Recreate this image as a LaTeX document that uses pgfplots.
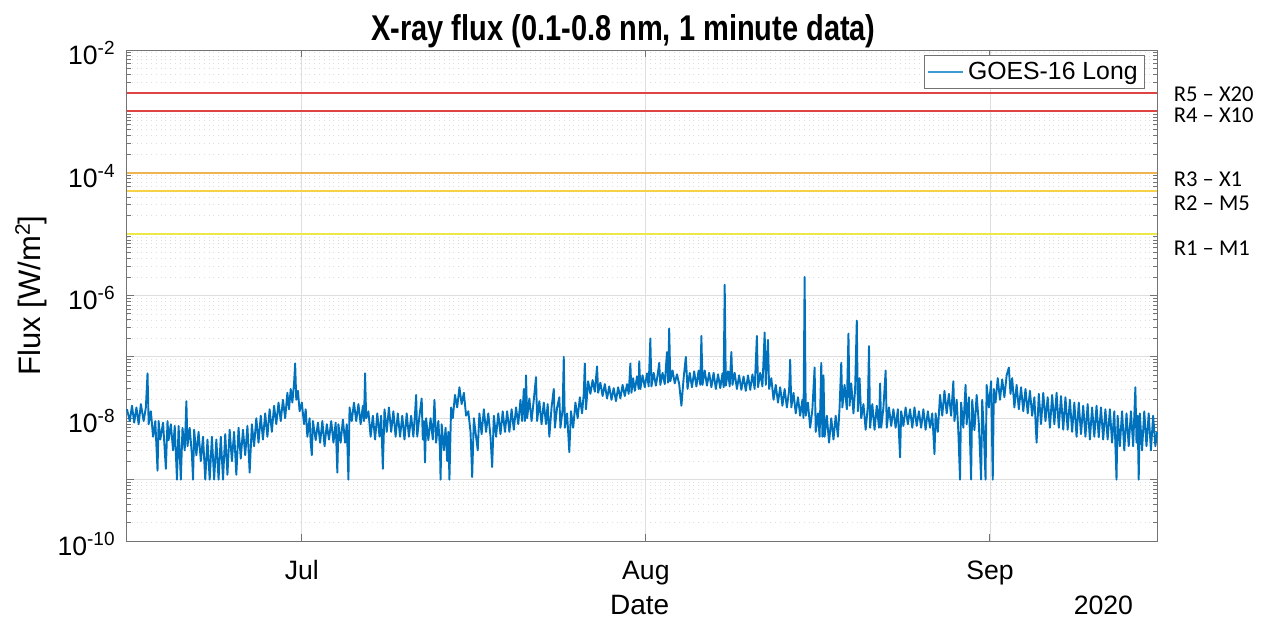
\documentclass[border=0pt]{standalone}
\usepackage{fontspec}
\setmainfont{Liberation Sans}
\newfontfamily\titlefont{Liberation Sans}[FakeStretch=0.81]
\newfontfamily\calfont{Carlito}
\usepackage{pgfplots}
\pgfplotsset{compat=1.18}
\definecolor{mblue}{RGB}{0,114,189}
\definecolor{legblue}{RGB}{60,155,212}
\definecolor{rRed}{RGB}{222,68,68}
\definecolor{rOrange}{RGB}{238,180,80}
\definecolor{rGold}{RGB}{245,210,70}
\definecolor{rYellow}{RGB}{238,232,70}
\newcommand{\sups}[1]{\raisebox{5pt}{\fontsize{9.5}{10}\selectfont #1}}
\begin{document}
\begin{tikzpicture}
\useasboundingbox (-63.5pt,-39pt) rectangle (567pt,270.5pt);
\begin{axis}[
  scale only axis, width=515pt, height=245.5pt,
  at={(0pt,0pt)}, anchor=south west,
  ymode=log, log basis y=10,
  xmin=-15.75, xmax=77.05, ymin=1e-10, ymax=1e-2,
  clip=false,
  xtick={0,31,62}, xticklabels={Jul,Aug,Sep},
  ytick={1e-10,1e-9,1e-8,1e-7,1e-6,1e-5,1e-4,1e-3,1e-2},
  yticklabels={{10\sups{-10}},{},{10\sups{-8}},{},{10\sups{-6}},{},{10\sups{-4}},{},{10\sups{-2}}},
  minor ytick={2e-10,3e-10,4e-10,5e-10,6e-10,7e-10,8e-10,9e-10,
    2e-9,3e-9,4e-9,5e-9,6e-9,7e-9,8e-9,9e-9,
    2e-8,3e-8,4e-8,5e-8,6e-8,7e-8,8e-8,9e-8,
    2e-7,3e-7,4e-7,5e-7,6e-7,7e-7,8e-7,9e-7,
    2e-6,3e-6,4e-6,5e-6,6e-6,7e-6,8e-6,9e-6,
    2e-5,3e-5,4e-5,5e-5,6e-5,7e-5,8e-5,9e-5,
    2e-4,3e-4,4e-4,5e-4,6e-4,7e-4,8e-4,9e-4,
    2e-3,3e-3,4e-3,5e-3,6e-3,7e-3,8e-3,9e-3},
  tick pos=both, tick align=inside,
  major tick length=3.5pt, minor tick length=2pt,
  xmajorgrids, ymajorgrids, yminorgrids,
  major grid style={color=black!13, line width=0.4pt},
  minor grid style={color=black!13, dotted, line width=0.4pt},
  axis line style={black!55, line width=0.5pt},
  tick style={black!55, line width=0.5pt},
  xticklabel style={font=\fontsize{13.3}{15}\selectfont, anchor=base, yshift=-19.2pt},
  yticklabel style={font=\fontsize{13.3}{15}\selectfont, anchor=base east, inner xsep=0pt, xshift=-6pt, yshift=-7.15pt},
  xlabel={Date},
  xlabel style={at={(axis description cs:0.4977,-0.1507)}, anchor=base, font=\fontsize{14}{16}\selectfont},
  ylabel={Flux [W/m\raisebox{5.5pt}{\fontsize{10.5}{11}\selectfont 2}]},
  ylabel style={at={(axis description cs:-0.0835,0.5)}, anchor=base, font=\fontsize{15.5}{17}\selectfont},
  legend style={at={(axis description cs:1,1)}, anchor=north east, xshift=-6pt, yshift=-2.5pt,
    draw=black!55, fill=white, font=\fontsize{12.4}{14}\selectfont,
    inner xsep=1.5pt, inner ysep=1.2pt, cells={anchor=west},
    legend image code/.code={\draw[#1] (0pt,0pt) -- (17.5pt,0pt);}},
]
\addplot[color=mblue, line width=0.95pt, line join=round, no marks, forget plot] coordinates {
(-15.75,1.4e-8) (-15.5,9e-9) (-15.3,1.6e-8) (-15.1,8.5e-9) (-14.9,1.5e-8) (-14.7,8e-9) (-14.5,1.7e-8) (-14.25,9e-9) (-14.05,1.5e-8) (-13.9,5.4e-8) (-13.8,8e-9) (-13.6,1.3e-8)
(-13.4,5e-9) (-13.2,9e-9) (-13.0,1.4e-9) (-12.9,9e-9) (-12.75,4.5e-9) (-12.5,8.5e-9) (-12.25,1.5e-9) (-12.1,9e-9) (-12.0,4.4e-9) (-11.8,8e-9)
(-11.6,3e-9) (-11.45,7.5e-9) (-11.25,1e-9) (-11.1,7.5e-9) (-10.9,1e-9) (-10.75,7e-9) (-10.55,3e-9) (-10.4,1.9e-8) (-10.3,3.5e-9) (-10.1,7e-9) (-9.9,2.5e-9) (-9.8,1e-9) (-9.7,6.5e-9) (-9.5,2.5e-9) (-9.3,6e-9) (-9.1,2e-9)
(-8.9,5e-9) (-8.7,1e-9) (-8.5,4.5e-9) (-8.3,1e-9) (-8.1,5e-9) (-7.9,1e-9) (-7.7,4.5e-9) (-7.5,1e-9) (-7.3,5e-9) (-7.1,1e-9) (-6.9,5.5e-9) (-6.7,1.2e-9)
(-6.5,6.5e-9) (-6.3,2e-9) (-6.1,6e-9) (-5.9,1.2e-9) (-5.7,7e-9) (-5.5,2.2e-9) (-5.3,6.5e-9) (-5.1,2.5e-9) (-4.9,7.5e-9) (-4.7,1.3e-9) (-4.5,8e-9)
(-4.3,3.5e-9) (-4.1,1e-8) (-3.9,4e-9) (-3.7,1.1e-8) (-3.5,4.5e-9) (-3.3,1.2e-8) (-3.1,5e-9) (-2.9,1.4e-8)
(-2.7,6e-9) (-2.5,1.6e-8) (-2.3,8e-9) (-2.1,1.8e-8) (-1.9,9e-9) (-1.7,2e-8) (-1.5,1e-8)
(-1.3,2.6e-8) (-1.15,1.4e-8) (-1.0,3e-8) (-0.85,1.8e-8) (-0.7,3.7e-8) (-0.6,7.8e-8) (-0.5,2e-8)
(-0.35,2.8e-8) (-0.2,1.3e-8) (0.0,1.8e-8) (0.2,8e-9) (0.35,1.4e-8)
(0.5,5e-9) (0.7,1e-8) (0.8,4e-9) (0.9,2.5e-9) (1.0,9e-9) (1.25,4.4e-9) (1.45,8.5e-9) (1.65,4e-9) (1.85,9e-9) (2.05,3.5e-9) (2.25,8e-9) (2.45,4.5e-9) (2.65,9e-9) (2.85,4e-9) (3.05,8.5e-9) (3.2,1.3e-9) (3.3,8e-9) (3.5,4e-9) (3.7,9.5e-9) (3.9,4e-9) (4.05,8e-9) (4.2,1e-9)
(4.3,1.5e-8) (4.5,9e-9) (4.7,1.8e-8) (4.9,9e-9) (5.1,1.7e-8) (5.3,8e-9) (5.5,1.6e-8) (5.6,9e-9) (5.7,5.4e-8) (5.8,1e-8)
(6.0,1.3e-8) (6.2,5e-9) (6.4,1.1e-8) (6.6,4.5e-9) (6.8,1.2e-8) (7.0,5e-9) (7.15,1.1e-8) (7.3,1.5e-9)
(7.45,1.4e-8) (7.65,6e-9) (7.85,1.5e-8) (8.05,6e-9) (8.25,1.3e-8) (8.45,5e-9) (8.65,1.2e-8) (8.85,5e-9) (9.05,1.1e-8) (9.25,4.5e-9) (9.45,1.2e-8) (9.65,5e-9) (9.85,1.1e-8) (10.05,5e-9) (10.2,1.2e-8) (10.3,2.4e-8) (10.4,5e-9) (10.6,1.1e-8) (10.8,2.1e-8) (10.9,4.5e-9) (11.0,9e-9) (11.1,1.9e-9) (11.2,1e-8) (11.4,4.4e-9) (11.6,1e-8) (11.8,4.5e-9) (11.95,2e-8) (12.1,4e-9) (12.3,9e-9) (12.45,3e-9) (12.5,1e-9) (12.6,8e-9) (12.8,3e-9) (12.95,7e-9) (13.1,2e-9) (13.2,6e-9) (13.3,1e-9)
(13.45,1.5e-8) (13.6,1e-8) (13.8,2.4e-8) (14.0,1.5e-8) (14.2,3.2e-8) (14.4,1.7e-8) (14.6,2.6e-8) (14.8,1.1e-8)
(15.0,1.3e-8) (15.2,6e-9) (15.35,1.1e-9) (15.5,1e-8)
(15.7,5e-9) (15.85,3e-9) (16.0,1.2e-8) (16.2,5.5e-9) (16.4,1.4e-8) (16.6,6e-9) (16.8,1.2e-8) (17.0,5e-9) (17.15,1.6e-9) (17.3,1.1e-8) (17.5,5e-9) (17.7,1.2e-8) (17.9,5.5e-9) (18.1,1.3e-8) (18.3,6e-9) (18.5,1.3e-8) (18.7,6e-9) (18.9,1.4e-8) (19.1,6.5e-9) (19.3,1.5e-8)
(19.5,8e-9) (19.7,2e-8) (19.85,9e-9) (20.0,3e-8) (20.1,9e-9) (20.2,5e-8) (20.3,1e-8) (20.5,2.1e-8) (20.7,9e-9) (20.9,2e-8) (21.1,4.7e-8) (21.2,9e-9) (21.4,1.9e-8) (21.6,8e-9) (21.8,1.8e-8) (22.0,8e-9)
(22.15,1.7e-8) (22.3,5e-9) (22.5,1.5e-8) (22.7,3e-8) (22.8,7e-9) (23.0,1.5e-8) (23.2,2.2e-8) (23.3,7e-9) (23.5,1.4e-8) (23.6,1e-7) (23.7,7e-9) (23.9,1.2e-8) (24.1,2.8e-9)
(24.25,1.3e-8) (24.45,7e-9) (24.65,1.8e-8) (24.85,1e-8) (25.05,2.2e-8) (25.25,1.2e-8) (25.4,2.5e-8) (25.5,7.8e-8) (25.6,1.4e-8)
(25.8,4e-8) (26.0,2.5e-8) (26.2,4.2e-8) (26.4,2.7e-8) (26.6,7e-8) (26.7,2.6e-8) (26.9,3.8e-8) (27.1,2.3e-8) (27.3,3.6e-8)
(27.5,2.1e-8) (27.7,3.3e-8) (27.9,2e-8) (28.1,3.1e-8) (28.3,1.9e-8) (28.5,3.2e-8) (28.7,2.1e-8) (28.9,3.5e-8) (29.1,2.3e-8) (29.3,3.6e-8) (29.45,2.5e-8) (29.6,7.8e-8) (29.7,2.6e-8)
(29.85,4.5e-8) (30.0,2.8e-8) (30.2,4.8e-8) (30.35,3e-8) (30.4,8.5e-8) (30.5,3e-8) (30.7,5e-8) (30.9,3.2e-8) (31.1,5.4e-8) (31.25,3.3e-8) (31.4,2e-7) (31.5,3.3e-8)
(31.7,5.5e-8) (31.9,3.4e-8) (32.05,5e-8) (32.2,8e-8) (32.3,3.5e-8) (32.5,5.5e-8) (32.7,3.6e-8) (32.9,1.2e-7) (33.0,3.8e-8) (33.1,2.9e-7) (33.2,4e-8) (33.4,6e-8) (33.6,3.7e-8) (33.8,5.2e-8) (34.0,3.6e-8) (34.2,1.6e-8)
(34.4,4.5e-8) (34.6,1e-7) (34.75,3e-8) (34.95,5.5e-8) (35.15,3.2e-8) (35.35,5.8e-8) (35.55,3.3e-8) (35.75,6e-8) (35.9,3.5e-8) (36.0,2.2e-7) (36.1,3.5e-8) (36.3,6e-8) (36.5,3.4e-8) (36.7,5.5e-8) (36.9,3.2e-8) (37.1,5.5e-8) (37.3,3e-8) (37.5,5.2e-8) (37.7,3.1e-8) (37.9,5.4e-8) (38.0,3.2e-8) (38.1,1.5e-6) (38.2,3.4e-8) (38.4,5.8e-8) (38.55,3.3e-8) (38.7,1.2e-7) (38.8,3.5e-8) (39.0,5.5e-8) (39.2,3e-8) (39.4,5e-8) (39.6,2.9e-8) (39.8,4.8e-8) (40.0,2.8e-8) (40.2,5e-8) (40.4,2.9e-8) (40.6,5.2e-8) (40.8,3e-8) (41.0,2.2e-7) (41.1,3.2e-8) (41.3,5.5e-8) (41.5,3.3e-8) (41.7,2.5e-7) (41.8,3.5e-8) (42.0,1.9e-7) (42.1,3e-8) (42.3,4.5e-8) (42.5,2e-8) (42.7,3.5e-8) (42.9,1.8e-8) (43.1,3.2e-8) (43.3,1.6e-8) (43.5,3e-8) (43.7,1.5e-8) (43.9,2.8e-8) (44.0,9e-8) (44.1,1.5e-8)
(44.3,2.6e-8) (44.5,1.2e-8) (44.7,2.2e-8) (44.9,1.1e-8) (45.1,2e-8) (45.2,1e-8) (45.3,2e-6) (45.4,1.1e-8)
(45.6,1.8e-8) (45.8,7e-9) (46.0,1.4e-8) (46.2,6.7e-8) (46.3,6e-9) (46.5,1.2e-8) (46.65,5e-9) (46.8,8e-8) (46.9,5e-9) (47.0,5e-8) (47.1,5e-9) (47.3,1.1e-8) (47.5,4e-9) (47.7,1e-8) (47.9,4.5e-9) (48.1,1.1e-8) (48.3,5e-9)
(48.45,1.5e-8) (48.6,8e-8) (48.7,1.5e-8) (48.9,3.5e-8) (49.1,1.4e-8) (49.25,2.4e-7) (49.35,1.6e-8) (49.5,3.7e-8) (49.7,1.2e-8) (49.85,3e-8) (50.0,3.9e-7) (50.1,1.3e-8) (50.25,4.5e-8) (50.4,1e-8)
(50.6,1.7e-8) (50.8,6.5e-9) (51.0,1.6e-8) (51.1,1.5e-7) (51.2,7e-9) (51.4,1.7e-8) (51.6,6.5e-9) (51.8,1.6e-8) (52.0,7e-9) (52.1,3.7e-8) (52.2,7e-9) (52.4,1.5e-8) (52.6,6e-8) (52.7,7e-9)
(52.9,1.5e-8) (53.1,7.5e-9) (53.3,1.4e-8) (53.5,7e-9) (53.7,1.4e-8) (53.9,2.3e-9) (54.0,1.3e-8) (54.2,7.5e-9) (54.4,1.5e-8) (54.6,8e-9) (54.8,1.4e-8) (55.0,7e-9) (55.2,1.5e-8) (55.4,7.5e-9) (55.6,1.3e-8) (55.8,7e-9) (56.0,1.4e-8) (56.2,6.5e-9) (56.4,1.3e-8) (56.6,7e-9) (56.8,1.2e-8) (57.0,2.6e-9) (57.1,1.2e-8) (57.3,6e-9)
(57.5,2.4e-8) (57.7,1.1e-8) (57.9,2.8e-8) (58.1,1.2e-8) (58.3,2.5e-8) (58.5,1.1e-8) (58.7,4e-8) (58.8,9e-9) (59.0,2e-8) (59.15,6e-9) (59.3,1e-9)
(59.4,1.8e-8) (59.6,7e-9) (59.8,3.5e-8) (59.9,8e-9) (60.1,2.2e-8) (60.3,1e-9) (60.4,2e-8) (60.6,6.4e-9) (60.8,2.4e-8) (61.0,8e-9) (61.2,1e-9) (61.3,2e-8) (61.45,6e-9) (61.6,1e-9) (61.7,3.5e-8) (61.9,1.5e-8)
(62.1,4e-8) (62.25,1e-9) (62.35,3e-8) (62.5,1.8e-8) (62.7,4.5e-8) (62.9,2e-8) (63.1,4.3e-8) (63.3,2.2e-8) (63.5,5e-8) (63.7,6.7e-8) (63.85,2.5e-8) (64.0,4.5e-8)
(64.2,1.5e-8) (64.4,3.5e-8) (64.6,1.4e-8) (64.8,3.2e-8) (65.0,1.3e-8) (65.2,3e-8) (65.4,1.2e-8) (65.6,2.8e-8) (65.8,1.1e-8)
(66.0,2.2e-8) (66.2,4e-9) (66.4,2.5e-8) (66.6,8e-9) (66.8,2.6e-8) (67.0,9e-9) (67.2,2.2e-8) (67.4,7e-9) (67.6,2.4e-8) (67.8,8e-9) (68.0,2.6e-8) (68.2,7e-9) (68.4,2.3e-8) (68.6,6.5e-9) (68.8,2.2e-8) (69.0,6.5e-9) (69.2,2e-8) (69.4,6e-9) (69.6,1.8e-8)
(69.8,5e-9) (70.0,1.8e-8) (70.2,5.5e-9) (70.4,1.6e-8) (70.6,5e-9) (70.8,1.7e-8) (71.0,4.5e-9) (71.2,1.5e-8) (71.4,5e-9) (71.6,1.6e-8) (71.8,4.9e-9) (72.0,1.5e-8) (72.2,4.5e-9) (72.4,1.4e-8) (72.6,4.5e-9) (72.8,1.4e-8)
(73.0,4e-9) (73.2,1.3e-8) (73.4,1e-9) (73.5,1.1e-8) (73.7,3.5e-9) (73.9,1.3e-8) (74.1,3e-9) (74.3,1.2e-8) (74.5,3.5e-9) (74.7,1.3e-8) (74.9,3.5e-9) (75.1,3.2e-8) (75.2,4e-9) (75.3,1.1e-8) (75.4,1e-9) (75.5,1.2e-8) (75.7,3e-9) (75.9,1.3e-8) (76.1,3.5e-9) (76.3,1.2e-8) (76.5,3e-9) (76.7,1.1e-8) (76.9,3.5e-9) (77.05,6e-9)
};
\addlegendimage{color=legblue, line width=0.6pt}
\addlegendentry{GOES-16 Long}
\addplot[color=rRed, line width=0.9pt, forget plot] coordinates {(-15.75,2e-3) (77.05,2e-3)};
\addplot[color=rRed, line width=0.9pt, forget plot] coordinates {(-15.75,1e-3) (77.05,1e-3)};
\addplot[color=rOrange, line width=0.9pt, forget plot] coordinates {(-15.75,1e-4) (77.05,1e-4)};
\addplot[color=rGold, line width=0.9pt, forget plot] coordinates {(-15.75,5e-5) (77.05,5e-5)};
\addplot[color=rYellow, line width=0.9pt, forget plot] coordinates {(-15.75,1e-5) (77.05,1e-5)};
\node[anchor=base, inner sep=0pt, font=\titlefont\bfseries\fontsize{17.9}{20}\selectfont] at (rel axis cs:0.482,1.019) {X-ray flux (0.1-0.8 nm, 1 minute data)};
\node[anchor=west, inner sep=0pt, font=\calfont\fontsize{11.3}{13}\selectfont] at (rel axis cs:1.0159,0.910) {R5 – X20};
\node[anchor=west, inner sep=0pt, font=\calfont\fontsize{11.3}{13}\selectfont] at (rel axis cs:1.0159,0.8676) {R4 – X10};
\node[anchor=west, inner sep=0pt, font=\calfont\fontsize{11.3}{13}\selectfont] at (rel axis cs:1.0159,0.7373) {R3 – X1};
\node[anchor=west, inner sep=0pt, font=\calfont\fontsize{11.3}{13}\selectfont] at (rel axis cs:1.0159,0.6884) {R2 – M5};
\node[anchor=west, inner sep=0pt, font=\calfont\fontsize{11.3}{13}\selectfont] at (rel axis cs:1.0159,0.5957) {R1 – M1};
\node[anchor=base east, inner sep=0pt, font=\fontsize{13.3}{15}\selectfont] at (rel axis cs:0.977,-0.1487) {2020};
\end{axis}
\end{tikzpicture}
\end{document}
